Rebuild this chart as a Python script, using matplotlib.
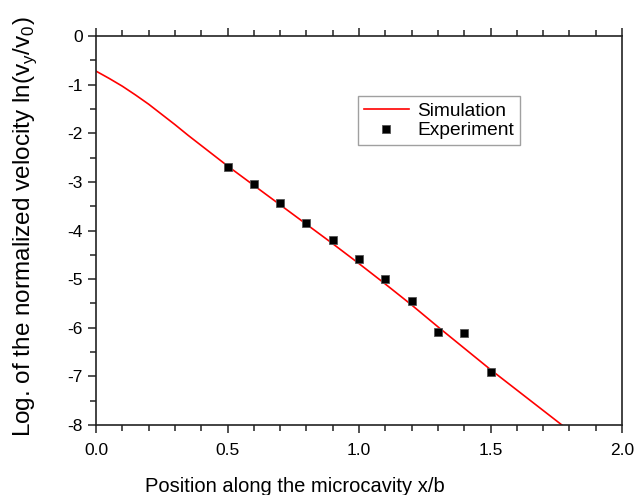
import matplotlib
matplotlib.use("Agg")
import matplotlib.pyplot as plt
from matplotlib.ticker import MultipleLocator, FormatStrFormatter

plt.rcParams['font.family'] = ['Liberation Sans', 'DejaVu Sans']
plt.rcParams['axes.unicode_minus'] = False
plt.rcParams['mathtext.fontset'] = 'custom'
plt.rcParams['mathtext.rm'] = 'Liberation Sans'

sim_x = [0.0, 0.05, 0.1, 0.15, 0.2, 0.25, 0.3, 0.35, 0.4, 0.45, 0.5, 0.6, 0.7, 0.8, 0.9,
         1.0, 1.1, 1.2, 1.3, 1.4, 1.5, 1.6, 1.7, 1.8]
sim_y = [-0.72, -0.87, -1.03, -1.21, -1.40, -1.61, -1.82, -2.04, -2.25, -2.46, -2.67,
         -3.07, -3.47, -3.87, -4.27, -4.68, -5.10, -5.53, -5.98, -6.42, -6.86, -7.28, -7.70, -8.12]

exp_x = [0.5, 0.6, 0.7, 0.8, 0.9, 1.0, 1.1, 1.2, 1.3, 1.4, 1.5]
exp_y = [-2.70, -3.04, -3.43, -3.84, -4.20, -4.59, -4.99, -5.45, -6.08, -6.11, -6.91]

fig = plt.figure(figsize=(6.36, 4.95), dpi=100)
ax = fig.add_axes([0.151, 0.1414, 0.827, 0.7856])

ax.plot(sim_x, sim_y, color='red', lw=1.2, label='Simulation', zorder=2)
ax.plot(exp_x, exp_y, ls='none', marker='s', ms=6, color='black', mec='#555555', mew=0.6,
        label='Experiment', zorder=3)

ax.set_xlim(0, 2.0)
ax.set_ylim(-8, 0)
ax.xaxis.set_major_locator(MultipleLocator(0.5))
ax.xaxis.set_minor_locator(MultipleLocator(0.1))
ax.yaxis.set_major_locator(MultipleLocator(1))
ax.yaxis.set_minor_locator(MultipleLocator(0.5))
ax.xaxis.set_major_formatter(FormatStrFormatter('%.1f'))

ax.tick_params(axis='x', which='both', direction='out', top=True, bottom=True, labelsize=12.5, width=1.1, color='#222222')
ax.tick_params(axis='y', which='both', direction='out', left=True, right=False, labelsize=12.5, width=1.1, color='#222222')
ax.tick_params(which='major', length=6)
ax.tick_params(which='minor', length=4)
ax.tick_params(axis='x', pad=7)

for s in ax.spines.values():
    s.set_linewidth(1.2)
    s.set_color('#222222')

ax.set_xlabel('Position along the microcavity x/b', fontsize=14.5, va='baseline')
ax.xaxis.set_label_coords(0.378, -0.172)
ax.set_ylabel('Log. of the normalized velocity ln(v$_\\mathrm{y}$/v$_\\mathrm{0}$)', fontsize=17.5, va='center')
ax.yaxis.set_label_coords(-0.135, 0.51)

leg = ax.legend(loc='upper left', bbox_to_anchor=(0.498, 0.845), fontsize=13.8, frameon=True,
                fancybox=False, edgecolor='#888888', borderpad=0.3, handlelength=2.35,
                handletextpad=0.45, labelspacing=0.12, borderaxespad=0)
leg.get_frame().set_linewidth(1.0)

fig.savefig('out.png', dpi=100)
